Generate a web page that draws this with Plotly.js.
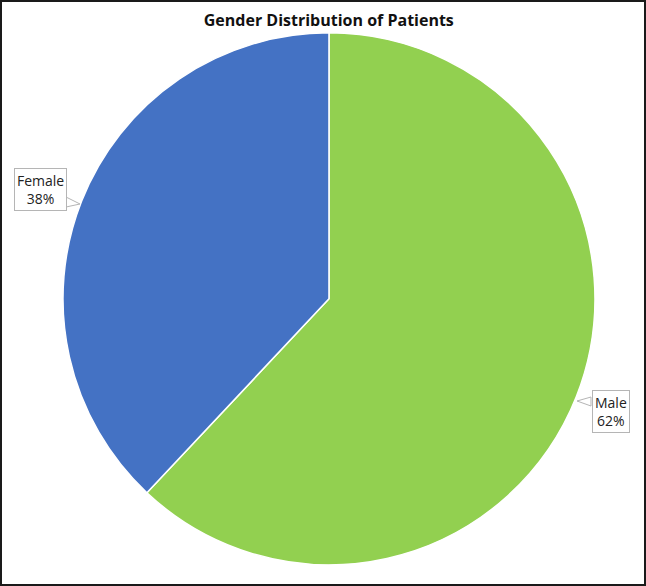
<!DOCTYPE html>
<html>
<head>
<meta charset="utf-8">
<script src="https://cdn.plot.ly/plotly-3.0.1.min.js"></script>
<style>html,body{margin:0;padding:0;background:#fff;}#chart{width:646px;height:586px;}</style>
</head>
<body>
<div id="chart"></div>
<script>
var categories = ["Male", "Female"];
var values = [62, 38];
var colors = ["#92D050", "#4472C4"];
var titleText = "Gender Distribution of Patients";

var W = 646, H = 586;
var total = values.reduce(function(a, b){ return a + b; }, 0);
// label box centres (pixels)
var labelPos = { "Male": {x: 611, y: 411}, "Female": {x: 40, y: 190} };

function px(x){ return x / W; }
function py(y){ return 1 - y / H; }

var annotations = categories.map(function(c, i){
  var pct = Math.round(values[i] / total * 100) + "%";
  return {
    xref: "paper", yref: "paper",
    x: px(labelPos[c].x), y: py(labelPos[c].y),
    xanchor: "center", yanchor: "middle",
    text: c + "<br>" + pct,
    showarrow: false,
    font: {family: "Open Sans, sans-serif", size: 14, color: "#222"},
    bgcolor: "#ffffff",
    bordercolor: "#b5b5b5",
    borderwidth: 1,
    borderpad: 2,
    align: "center"
  };
});

function tri(p){
  return "M" + px(p[0][0]) + "," + py(p[0][1]) + " L" + px(p[1][0]) + "," + py(p[1][1]) + " L" + px(p[2][0]) + "," + py(p[2][1]) + " Z";
}
var tails = [
  [[66, 197], [80, 204], [66, 207]],
  [[591, 397], [577, 401], [591, 406]]
];
var shapes = tails.map(function(t){
  return {type: "path", xref: "paper", yref: "paper", path: tri(t),
          fillcolor: "#ffffff", line: {color: "#b5b5b5", width: 1}, layer: "above"};
});
shapes.push({
  type: "rect", xref: "paper", yref: "paper",
  x0: 0, x1: 1, y0: 0, y1: 1,
  line: {color: "#1a1a1a", width: 4}
});

var data = [{
  type: "pie",
  labels: categories,
  values: values,
  marker: {colors: colors, line: {color: "#ffffff", width: 1.5}},
  sort: false,
  direction: "clockwise",
  rotation: 0,
  textinfo: "none",
  hoverinfo: "label+percent",
  showlegend: false,
  domain: {x: [0.0975, 0.921], y: [0.036, 0.944]}
}];

var layout = {
  width: W, height: H,
  margin: {l: 0, r: 0, t: 0, b: 0},
  paper_bgcolor: "#ffffff",
  title: {
    text: "<b>" + titleText + "</b>",
    x: 0.509, xanchor: "center",
    y: 0.966, yanchor: "middle",
    font: {family: "Open Sans, sans-serif", size: 16, color: "#111"}
  },
  annotations: annotations,
  shapes: shapes
};

Plotly.newPlot("chart", data, layout, {staticPlot: true});
</script>
</body>
</html>
